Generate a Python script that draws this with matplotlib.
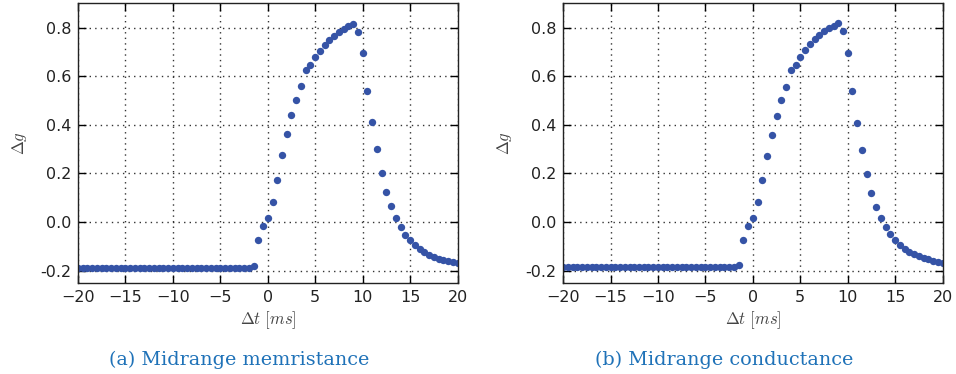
import numpy as np
import matplotlib
matplotlib.use('Agg')
import matplotlib.pyplot as plt

plt.rcParams['mathtext.fontset'] = 'cm'

dt = np.arange(-20, 20.5, 0.5)

# flat part from -20 to -2 (37 points), then -1.5 ... 20
memr_tail = [-0.181, -0.075, -0.017, 0.018, 0.084, 0.174, 0.274, 0.363, 0.439, 0.503,
             0.558, 0.626, 0.645, 0.678, 0.705, 0.730, 0.751, 0.767, 0.782, 0.795,
             0.807, 0.814, 0.782, 0.696, 0.540, 0.410, 0.299, 0.201, 0.124, 0.064,
             0.017, -0.021, -0.052, -0.074, -0.094, -0.111, -0.124, -0.135, -0.144,
             -0.151, -0.156, -0.162, -0.166, -0.170]
memr = [-0.188] * 37 + memr_tail

cond_tail = [-0.178, -0.074, -0.017, 0.018, 0.083, 0.171, 0.271, 0.360, 0.436, 0.502,
             0.557, 0.626, 0.645, 0.678, 0.707, 0.731, 0.752, 0.770, 0.785, 0.797,
             0.808, 0.818, 0.785, 0.697, 0.539, 0.407, 0.296, 0.198, 0.121, 0.062,
             0.016, -0.021, -0.050, -0.074, -0.093, -0.110, -0.122, -0.133, -0.141,
             -0.148, -0.154, -0.159, -0.163, -0.168]
cond = [-0.185] * 37 + cond_tail

captions = ['(a) Midrange memristance', '(b) Midrange conductance']
xticks = [-20, -15, -10, -5, 0, 5, 10, 15, 20]
yticks = [-0.2, 0.0, 0.2, 0.4, 0.6, 0.8]

fig = plt.figure(figsize=(9.56, 3.74), dpi=100)
lefts = [0.0816, 0.589]
cap_x = [0.25, 0.758]

for left, cx, vals, cap in zip(lefts, cap_x, [memr, cond], captions):
    ax = fig.add_axes([left, 0.244, 0.397, 0.747])
    ax.plot(dt, vals, 'o', color='#3553a6', markersize=5.3, markeredgewidth=0)
    ax.set_xlim(-20, 20)
    ax.set_ylim(-0.25, 0.9)
    ax.set_xticks(xticks)
    ax.set_yticks(yticks)
    ax.set_yticklabels(['%.1f' % v for v in yticks])
    ax.grid(True, linestyle=(0, (1, 3)), color='#333333', linewidth=1.0)
    ax.tick_params(direction='in', top=True, right=True, length=6, width=1,
                   labelsize=11.5, labelcolor='#222222', pad=5)
    for s in ax.spines.values():
        s.set_linewidth(1.0)
        s.set_color('#222222')
    ax.set_xlabel(r'$\Delta t\ [ms]$', fontsize=12, color='#444444', labelpad=3)
    ax.set_ylabel(r'$\Delta g$', fontsize=12, color='#444444', labelpad=8)
    fig.text(cx, 0.025, cap, ha='center', va='baseline',
             fontsize=13.8, family='DejaVu Serif', color='#1f72b8')

fig.savefig('out.png', dpi=100)
